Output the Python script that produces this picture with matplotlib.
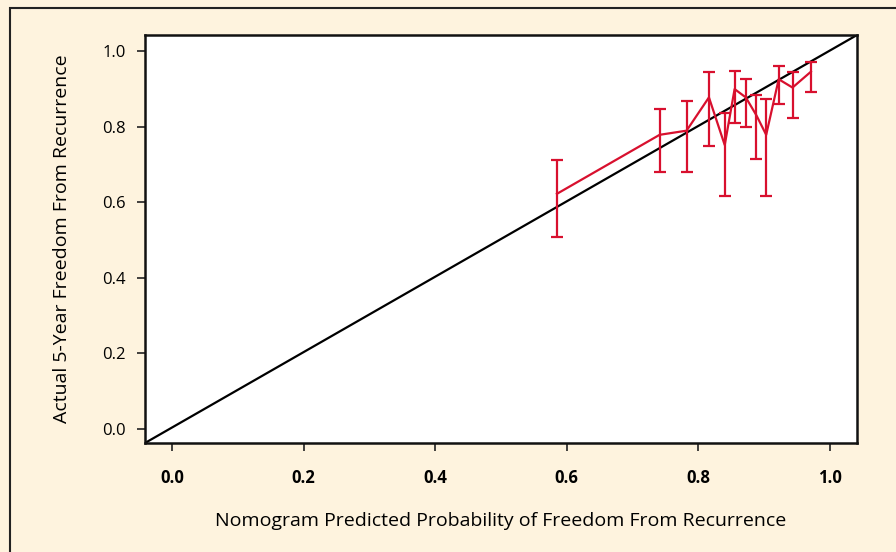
import matplotlib.pyplot as plt
from matplotlib.patches import Rectangle

predicted = [0.585, 0.741, 0.782, 0.816, 0.840, 0.855, 0.872, 0.888, 0.903, 0.922, 0.943, 0.971]
actual = [0.622, 0.778, 0.789, 0.877, 0.751, 0.899, 0.877, 0.830, 0.778, 0.925, 0.903, 0.945]
upper = [0.712, 0.847, 0.868, 0.944, 0.835, 0.948, 0.925, 0.884, 0.873, 0.960, 0.945, 0.971]
lower = [0.507, 0.681, 0.681, 0.749, 0.616, 0.810, 0.798, 0.713, 0.616, 0.860, 0.822, 0.892]
ticks = [0.0, 0.2, 0.4, 0.6, 0.8, 1.0]
tick_labels = ["0.0", "0.2", "0.4", "0.6", "0.8", "1.0"]

plt.rcParams["font.family"] = ["Open Sans", "DejaVu Sans"]

bg = "#fef3de"
red = "#d8102e"

fig = plt.figure(figsize=(8.96, 5.52), dpi=100, facecolor=bg)
# frame around the figure (only top and left edges visible)
fig.patches.append(Rectangle((10 / 896, -0.1), 1.2, 1 - 8 / 552 + 0.1,
                             transform=fig.transFigure, fill=False,
                             edgecolor="#222222", linewidth=1.5))

ax = fig.add_axes([145 / 896, 1 - 443 / 552, 712 / 896, 408 / 552])
ax.set_facecolor("white")

xlo, xhi = -0.041, 1.041
ylo, yhi = -0.037, 1.042
ax.plot([xlo, xhi], [ylo, yhi], color="black", linewidth=1.6, zorder=2)

err_lo = [a - l for a, l in zip(actual, lower)]
err_hi = [u - a for a, u in zip(actual, upper)]
ax.errorbar(predicted, actual, yerr=[err_lo, err_hi], color=red,
            linewidth=1.6, elinewidth=1.6, capsize=4.5, capthick=1.6, zorder=3)

ax.set_xlim(xlo, xhi)
ax.set_ylim(ylo, yhi)

ax.set_xticks(ticks)
ax.set_xticklabels(tick_labels, fontsize=12, fontweight="bold")
ax.set_yticks(ticks)
ax.set_yticklabels(tick_labels, fontsize=12)
ax.tick_params(axis="both", direction="out", length=6, width=1.2, color="#222222")
ax.tick_params(axis="x", pad=13)
ax.tick_params(axis="y", pad=8)

for s in ax.spines.values():
    s.set_linewidth(1.8)
    s.set_color("#111111")

ax.set_xlabel("Nomogram Predicted Probability of Freedom From Recurrence", fontsize=14)
ax.set_ylabel("Actual 5-Year Freedom From Recurrence", fontsize=14)
ax.xaxis.set_label_coords(0.5, -0.169)
ax.yaxis.set_label_coords(-0.104, 0.5)

fig.savefig("out.png", dpi=100, facecolor=bg)
